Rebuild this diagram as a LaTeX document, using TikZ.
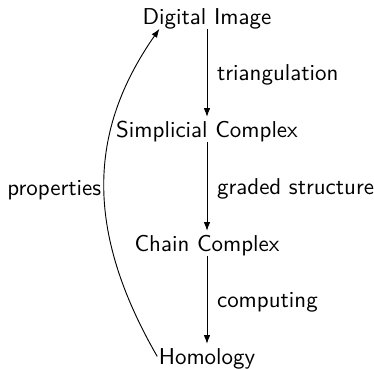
\documentclass[tikz,border=0pt]{standalone}
\usetikzlibrary{arrows.meta}
\begin{document}
\begin{tikzpicture}[x=0.436pt,y=-0.436pt,font=\sffamily,
  obj/.style={anchor=base, inner xsep=0.5pt, inner ysep=1.5pt, text height=7.5pt, text depth=0pt},
  arr/.style={-{Latex[length=3.8pt,width=2.8pt]}, line width=0.4pt},
  lbl/.style={anchor=base west, inner sep=0pt, xshift=4.2pt, yshift=-3.5pt}]
\useasboundingbox (0,0) rectangle (374,369);
\node[obj] (d) at (207,25) {Digital Image};
\node[obj] (s) at (207,138) {Simplicial Complex};
\node[obj] (c) at (207,252) {Chain Complex};
\node[obj] (h) at (207,365) {Homology};
\coordinate (dend) at ([xshift=8pt]d.south west);
\draw[arr] (d) -- node[lbl] {triangulation} (s);
\draw[arr] (s) -- node[lbl] {graded structure} (c);
\draw[arr] (c) -- node[lbl] {computing} (h);
\draw[arr] (h.west) .. controls +(-72,-125) and +(-72,103) .. node[pos=0.5, anchor=base east, inner sep=0pt, xshift=-1.2pt, yshift=-4.9pt] {properties} (dend);
\end{tikzpicture}
\end{document}
